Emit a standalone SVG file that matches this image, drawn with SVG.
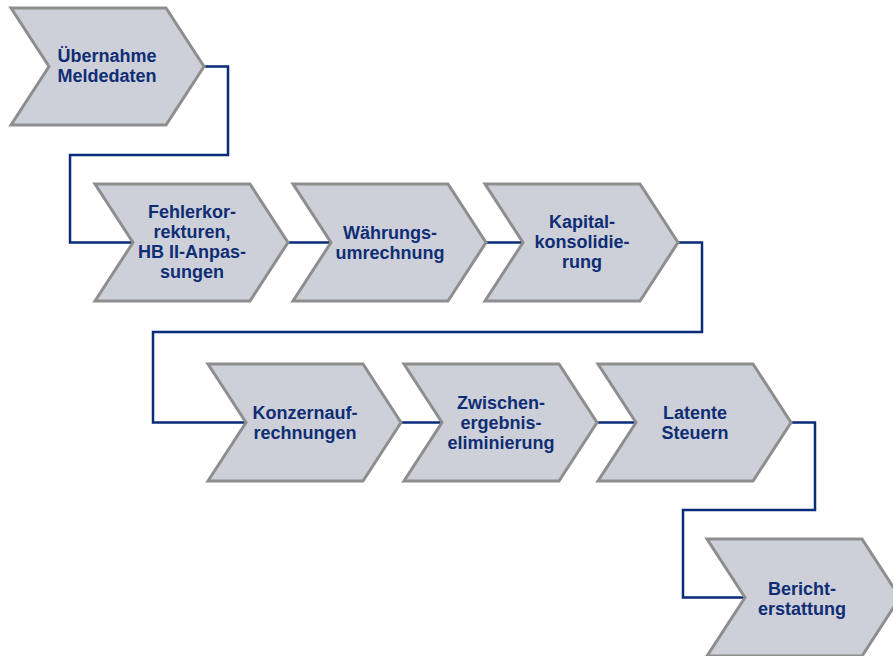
<svg xmlns="http://www.w3.org/2000/svg" width="893" height="656" viewBox="0 0 893 656">
<style>
.chev{fill:#cdd0d8;stroke:#8e8e8e;stroke-width:3;stroke-linejoin:miter}
.lbl{font-family:"Liberation Sans",Arial,sans-serif;font-weight:bold;font-size:18px;fill:#0f2d74;text-anchor:middle}
.con{fill:none;stroke:#0a2a7a;stroke-width:2.5;stroke-linejoin:miter}
</style>
<rect width="893" height="656" fill="#ffffff"/>
<g id="connectors">
<polyline class="con" points="204,66.5 228,66.5 228,155 70,155 70,242.5 133,242.5"/>
<polyline class="con" points="288,242.5 331,242.5"/>
<polyline class="con" points="486,242.5 523,242.5"/>
<polyline class="con" points="678,242.5 702,242.5 702,332 153,332 153,422.5 246,422.5"/>
<polyline class="con" points="401,422.5 442,422.5"/>
<polyline class="con" points="597,422.5 636,422.5"/>
<polyline class="con" points="791,422.5 815,422.5 815,510 683,510 683,597.5 745,597.5"/>
</g>
<g id="n1">
<polygon class="chev" points="11,8 166,8 204,66.5 166,125 11,125 49,66.5"/>
<text class="lbl" x="107" y="62">Übernahme</text>
<text class="lbl" x="107" y="82">Meldedaten</text>
</g>
<g id="n2">
<polygon class="chev" points="95,184 250,184 288,242.5 250,301 95,301 133,242.5"/>
<text class="lbl" x="192" y="218">Fehlerkor-</text>
<text class="lbl" x="192" y="238">rekturen,</text>
<text class="lbl" x="192" y="258">HB II-Anpas-</text>
<text class="lbl" x="192" y="278">sungen</text>
</g>
<g id="n3">
<polygon class="chev" points="293,184 448,184 486,242.5 448,301 293,301 331,242.5"/>
<text class="lbl" x="390" y="239">Währungs-</text>
<text class="lbl" x="390" y="259">umrechnung</text>
</g>
<g id="n4">
<polygon class="chev" points="485,184 640,184 678,242.5 640,301 485,301 523,242.5"/>
<text class="lbl" x="582" y="228">Kapital-</text>
<text class="lbl" x="582" y="248">konsolidie-</text>
<text class="lbl" x="582" y="268">rung</text>
</g>
<g id="n5">
<polygon class="chev" points="208,364 363,364 401,422.5 363,481 208,481 246,422.5"/>
<text class="lbl" x="305" y="419">Konzernauf-</text>
<text class="lbl" x="305" y="439">rechnungen</text>
</g>
<g id="n6">
<polygon class="chev" points="404,364 559,364 597,422.5 559,481 404,481 442,422.5"/>
<text class="lbl" x="501" y="409">Zwischen-</text>
<text class="lbl" x="501" y="429">ergebnis-</text>
<text class="lbl" x="501" y="449">eliminierung</text>
</g>
<g id="n7">
<polygon class="chev" points="598,364 753,364 791,422.5 753,481 598,481 636,422.5"/>
<text class="lbl" x="695" y="419">Latente</text>
<text class="lbl" x="695" y="439">Steuern</text>
</g>
<g id="n8">
<polygon class="chev" points="707,539 862,539 900,597.5 862,656 707,656 745,597.5"/>
<text class="lbl" x="802" y="595">Bericht-</text>
<text class="lbl" x="802" y="615">erstattung</text>
</g>
</svg>
